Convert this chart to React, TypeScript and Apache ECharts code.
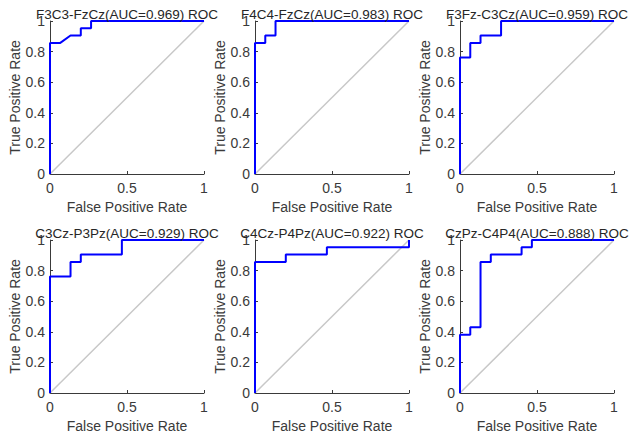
import React, { useEffect, useRef } from "react";
import * as echarts from "echarts";

const titles = [
  "F3C3-FzCz(AUC=0.969) ROC",
  "F4C4-FzCz(AUC=0.983) ROC",
  "F3Fz-C3Cz(AUC=0.959) ROC",
  "C3Cz-P3Pz(AUC=0.929) ROC",
  "C4Cz-P4Pz(AUC=0.922) ROC",
  "CzPz-C4P4(AUC=0.888) ROC",
];

const fpr1 = [0, 0, 0.0667, 0.1333, 0.2, 0.2, 0.2667, 0.2667, 1];
const tpr1 = [0, 0.857, 0.857, 0.905, 0.905, 0.952, 0.952, 1, 1];

const fpr2 = [0, 0, 0.0667, 0.0667, 0.1333, 0.1333, 1];
const tpr2 = [0, 0.857, 0.857, 0.905, 0.905, 1, 1];

const fpr3 = [0, 0, 0.0667, 0.0667, 0.1333, 0.1333, 0.2667, 0.2667, 1];
const tpr3 = [0, 0.762, 0.762, 0.857, 0.857, 0.905, 0.905, 1, 1];

const fpr4 = [0, 0, 0.1333, 0.1333, 0.2, 0.2, 0.4667, 0.4667, 1];
const tpr4 = [0, 0.762, 0.762, 0.857, 0.857, 0.905, 0.905, 1, 1];

const fpr5 = [0, 0, 0.2, 0.2, 0.4667, 0.4667, 1, 1];
const tpr5 = [0, 0.857, 0.857, 0.905, 0.905, 0.952, 0.952, 1];

const fpr6 = [0, 0, 0.0667, 0.0667, 0.1333, 0.1333, 0.2, 0.2, 0.4, 0.4, 0.4667, 0.4667, 1];
const tpr6 = [0, 0.381, 0.381, 0.429, 0.429, 0.857, 0.857, 0.905, 0.905, 0.952, 0.952, 1, 1];

const fprs = [fpr1, fpr2, fpr3, fpr4, fpr5, fpr6];
const tprs = [tpr1, tpr2, tpr3, tpr4, tpr5, tpr6];

const diagX = [0, 1];
const diagY = [0, 1];

const xTicks = [0, 0.5, 1];
const yTicks = [0, 0.2, 0.4, 0.6, 0.8, 1];

const FONT = "Liberation Sans, Arial, sans-serif";
const TXT = "#3a3a3a";

export default function App() {
  const ref = useRef<HTMLDivElement>(null);
  useEffect(() => {
    if (!ref.current) return;
    const chart = echarts.init(ref.current, null, { renderer: "svg" });
    const lefts = [50, 255, 460];
    const tops = [21, 240];
    const W = 154;
    const H = 153;
    const grid: any[] = [];
    const xAxis: any[] = [];
    const yAxis: any[] = [];
    const series: any[] = [];
    const title: any[] = [];
    for (let i = 0; i < 6; i++) {
      const l = lefts[i % 3];
      const t = tops[Math.floor(i / 3)];
      grid.push({ left: l, top: t, width: W, height: H, containLabel: false });
      const axCommon = {
        gridIndex: i,
        min: 0,
        max: 1,
        nameLocation: "middle",
        nameTextStyle: { color: TXT, fontFamily: FONT, fontSize: 14 },
        axisLine: { show: true, lineStyle: { color: TXT, width: 1 } },
        axisTick: { show: true, inside: true, length: 3, lineStyle: { color: TXT } },
        axisLabel: { color: TXT, fontFamily: FONT, fontSize: 14 },
        splitLine: { show: false },
      };
      xAxis.push({
        ...axCommon,
        type: "value",
        interval: 0.5,
        name: "False Positive Rate",
        nameGap: 26,
        axisLabel: {
          ...axCommon.axisLabel,
          margin: 7,
          formatter: (v: number) => (xTicks.includes(v) ? String(v) : ""),
        },
      });
      yAxis.push({
        ...axCommon,
        type: "value",
        interval: 0.2,
        name: "True Positive Rate",
        nameGap: 25,
        axisLabel: {
          ...axCommon.axisLabel,
          margin: 5,
          formatter: (v: number) => {
            const r = Math.round(v * 10) / 10;
            return yTicks.includes(r) ? String(r) : "";
          },
        },
      });
      series.push({
        type: "line",
        xAxisIndex: i,
        yAxisIndex: i,
        data: diagX.map((x, k) => [x, diagY[k]]),
        symbol: "none",
        lineStyle: { color: "#c8c8c8", width: 1.5 },
        silent: true,
      });
      series.push({
        type: "line",
        xAxisIndex: i,
        yAxisIndex: i,
        data: fprs[i].map((x, k) => [x, tprs[i][k]]),
        symbol: "none",
        lineStyle: { color: "#0000ff", width: 2 },
        silent: true,
      });
      title.push({
        text: titles[i],
        left: l + W / 2,
        top: t - 14,
        textAlign: "center",
        textStyle: { color: "#262626", fontFamily: FONT, fontSize: 13.5, fontWeight: "normal" },
        padding: 0,
      });
    }
    chart.setOption({
      animation: false,
      backgroundColor: "#ffffff",
      title,
      grid,
      xAxis,
      yAxis,
      series,
    });
    return () => chart.dispose();
  }, []);
  return (
    <div
      ref={ref}
      style={{ width: 637, height: 435, position: "absolute", left: 0, top: 0 }}
    />
  );
}
